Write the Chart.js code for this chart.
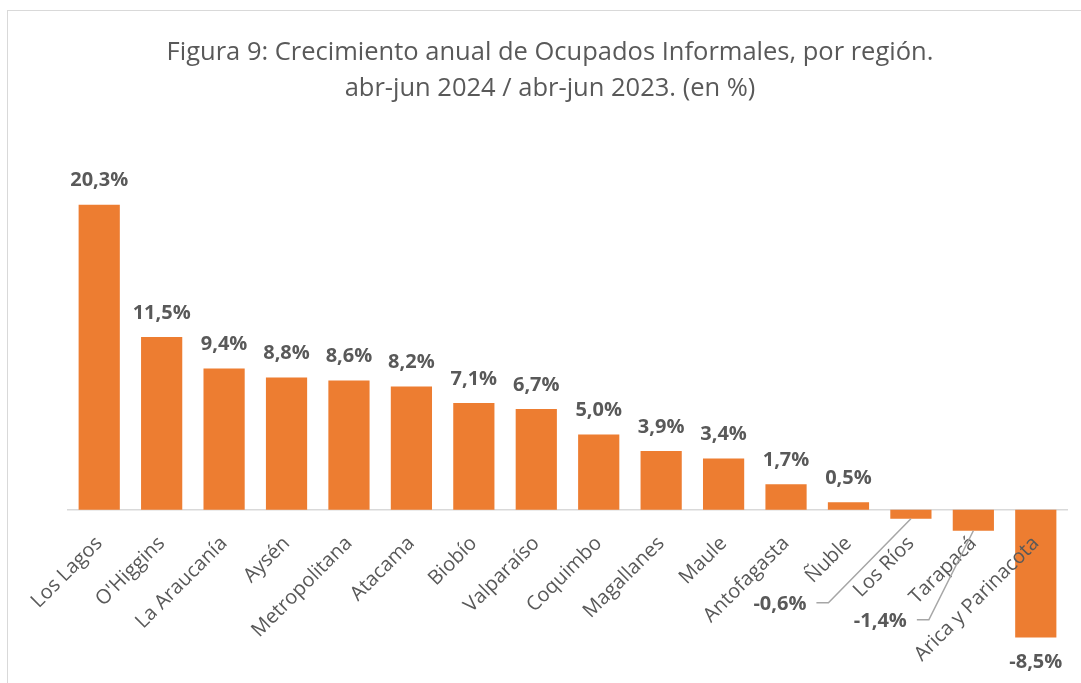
<!DOCTYPE html>
<html><head><meta charset="utf-8">
<script src="https://cdn.jsdelivr.net/npm/chart.js@4.4.1/dist/chart.umd.min.js"></script>
<style>
html,body{margin:0;padding:0;background:#fff;overflow:hidden;}
#wrap{position:relative;width:1081px;height:683px;overflow:hidden;}
#frame{position:absolute;left:7px;top:10px;width:1100px;height:720px;border:1px solid #d9d9d9;box-sizing:border-box;}
canvas{position:absolute;left:0;top:0;}
</style></head><body>
<div id="wrap"><div id="frame"></div><canvas id="c" width="1081" height="683"></canvas></div>
<script>
const titleLines = ['Figura 9: Crecimiento anual de Ocupados Informales, por región.', 'abr-jun 2024 / abr-jun 2023. (en %)'];
const regions = ['Los Lagos', "O'Higgins", 'La Araucanía', 'Aysén', 'Metropolitana', 'Atacama', 'Biobío', 'Valparaíso', 'Coquimbo', 'Magallanes', 'Maule', 'Antofagasta', 'Ñuble', 'Los Ríos', 'Tarapacá', 'Arica y Parinacota'];
const growth = [20.3, 11.5, 9.4, 8.8, 8.6, 8.2, 7.1, 6.7, 5.0, 3.9, 3.4, 1.7, 0.5, -0.6, -1.4, -8.5];
const yMin = -10, yMax = 25;

const GRAY = '#595959';
const ORANGE = '#ED7D31';
const leaderOffsets = { 'Los Ríos': [-131, 86], 'Tarapacá': [-93, 91] };

const fmt = v => v.toFixed(1).replace('.', ',') + '%';

const valueLabels = {
  id: 'valueLabels',
  afterDraw(chart) {
    const ctx = chart.ctx;
    const meta = chart.getDatasetMeta(0);
    ctx.save();
    ctx.font = 'bold 20px "Open Sans"';
    ctx.fillStyle = GRAY;
    ctx.textAlign = 'center';
    ctx.textBaseline = 'middle';
    meta.data.forEach((bar, i) => {
      const v = growth[i];
      const txt = fmt(v);
      const name = regions[i];
      if (leaderOffsets[name]) {
        const [dx, dy] = leaderOffsets[name];
        const cx = bar.x + dx, cy = bar.y + dy;
        ctx.fillText(txt, cx, cy);
        const w = ctx.measureText(txt).width;
        const sx = cx + w / 2 + 10;
        ctx.beginPath();
        ctx.strokeStyle = '#a6a6a6';
        ctx.lineWidth = 1.5;
        ctx.moveTo(sx, cy - 2);
        ctx.lineTo(sx + 12, cy - 2);
        ctx.lineTo(bar.x, bar.y);
        ctx.stroke();
      } else if (v >= 0) {
        ctx.fillText(txt, bar.x, bar.y - 24);
      } else {
        ctx.fillText(txt, bar.x, bar.y + 25);
      }
    });
    ctx.restore();
  }
};

new Chart(document.getElementById('c'), {
  type: 'bar',
  data: {
    labels: regions,
    datasets: [{
      data: growth,
      backgroundColor: ORANGE,
      borderWidth: 0,
      barPercentage: 0.66,
      categoryPercentage: 1.0
    }]
  },
  options: {
    responsive: false,
    animation: false,
    devicePixelRatio: 1,
    layout: { padding: { left: 33, right: 14, top: 0, bottom: 23 } },
    plugins: {
      legend: { display: false },
      tooltip: { enabled: false },
      title: {
        display: true,
        text: titleLines,
        color: GRAY,
        font: { family: '"Open Sans"', size: 25.5, weight: 'normal', lineHeight: '36px' },
        padding: { top: 35, bottom: 27 }
      }
    },
    scales: {
      x: {
        position: { y: 0 },
        grid: { display: false },
        border: { display: true, color: '#d9d9d9', width: 1.5 },
        ticks: {
          z: 1,
          color: GRAY,
          font: { family: '"Open Sans"', size: 20 },
          minRotation: 45,
          maxRotation: 45,
          padding: 14,
          autoSkip: false
        }
      },
      y: {
        display: true,
        min: yMin,
        max: yMax,
        grid: { display: false },
        border: { display: false },
        ticks: { display: false },
        afterFit(scale) { scale.width = 35; }
      }
    }
  },
  plugins: [valueLabels]
});
</script>
</body></html>
